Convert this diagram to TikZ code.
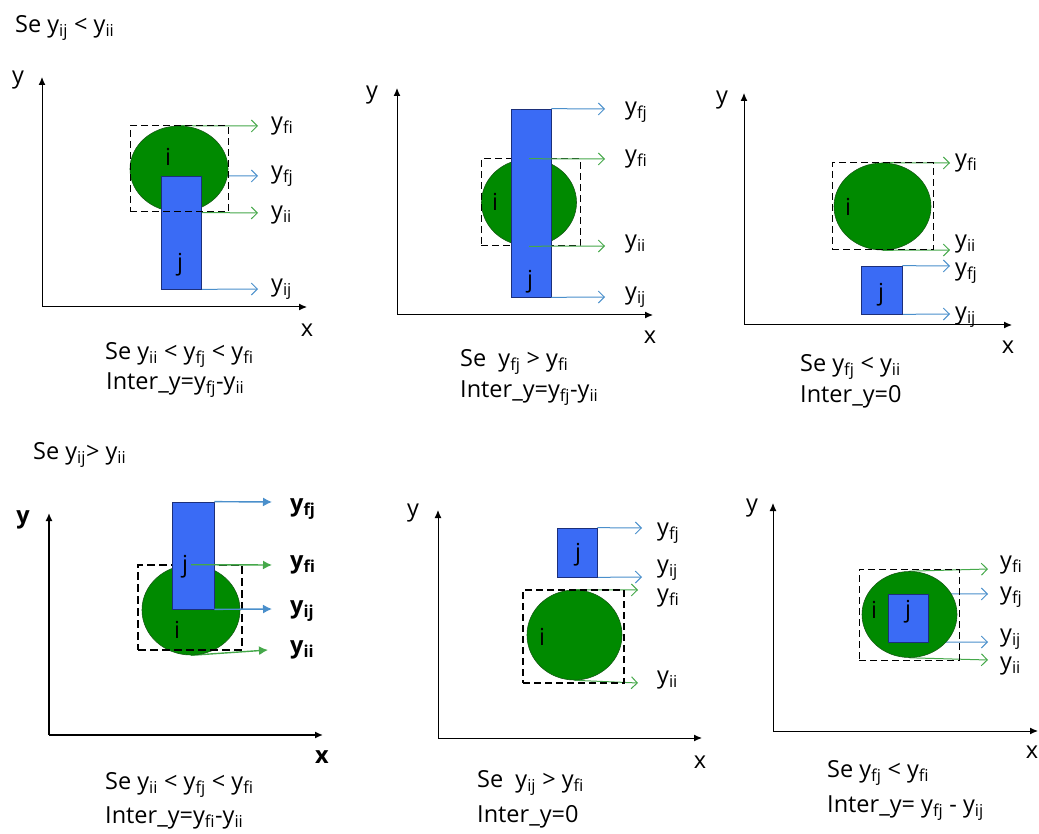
\documentclass[tikz,border=0pt]{standalone}
\usepackage{fontspec}
\setmainfont{Open Sans}
\usetikzlibrary{arrows.meta,positioning,shapes.geometric,backgrounds}
\definecolor{igreen}{HTML}{008A00}
\definecolor{iedge}{HTML}{145A14}
\definecolor{jblue}{HTML}{3A6BF5}
\definecolor{jedge}{HTML}{1C2F7A}
\definecolor{agreen}{HTML}{45A84A}
\definecolor{ablue}{HTML}{4A8FCB}
\newcommand{\ysub}[1]{y\textsubscript{#1}}
\tikzset{
  txt/.style={font=\fontsize{23.5}{26}\selectfont,inner sep=0pt},
  txtb/.style={font=\fontsize{23.5}{26}\selectfont\bfseries,inner sep=0pt},
  captxt/.style={txt,anchor=west},
  lab/.style={txt,anchor=west},
  labb/.style={txtb,anchor=west},
  axis/.style={-{Latex[length=8pt,width=7pt]},line width=1pt},
  axisb/.style={axis,line width=1.5pt},
  circ/.style={ellipse,fill=igreen,draw=iedge,line width=0.6pt,inner sep=0pt},
  frame/.style={rectangle,draw,line width=1pt,dash pattern=on 7pt off 4pt,inner sep=0pt},
  frameb/.style={frame,line width=1.8pt,dash pattern=on 8pt off 4pt},
  bar/.style={rectangle,fill=jblue,draw=jedge,line width=0.7pt,inner sep=0pt},
  ga/.style={-{Straight Barb[length=6pt,width=12pt]},draw=agreen,line width=1pt},
  ba/.style={-{Straight Barb[length=6pt,width=12pt]},draw=ablue,line width=1pt},
  gab/.style={-{Latex[length=9pt,width=9pt]},draw=agreen,line width=1.4pt},
  bab/.style={-{Latex[length=9pt,width=9pt]},draw=ablue,line width=1.4pt},
}
\begin{document}
\begin{tikzpicture}[x=1pt,y=-1pt]
\useasboundingbox (0,0) rectangle (1039,834);

% caso y_ij < y_ii
\node[captxt] (t1) at (15,28) {Se \ysub{ij} < \ysub{ii}};

% painel 1
\coordinate (o1) at (42,307);
\draw[axis] (o1) -- (42,77);
\draw[axis] (o1) -- (307,307);
\node[txt] (y1) at (18,80) {y};
\node[txt] (x1) at (307,330) {x};
\node[circ,minimum width=98pt,minimum height=86pt] (i1) at (179,169) {};
\node[bar,minimum width=40pt,minimum height=113pt] (j1) at (181,232.5) {};
\node[frame,minimum width=98pt,minimum height=86pt] (b1) at (179,169) {};
\node[txt] (ti1) at (168,157) {i};
\node[txt] (tj1) at (180,265) {j};
\coordinate (e11) at (258,126);
\coordinate (e12) at (258,176);
\coordinate (e13) at (258,213);
\coordinate (e14) at (258,289);
\begin{scope}[on background layer]
  \draw[ga] (i1.north) -- (e11);
  \draw[ba] (j1.north east) -- (e12);
  \draw[ga] (i1.south) -- (e13);
  \draw[ba] (j1.south east) -- (e14);
\end{scope}
\node[lab,right=13pt of e11] (l11) {\ysub{fi}};
\node[lab,right=13pt of e12] (l12) {\ysub{fj}};
\node[lab,right=13pt of e13,yshift=-2pt] (l13) {\ysub{ii}};
\node[lab,right=13pt of e14] (l14) {\ysub{ij}};
\node[captxt] (c11) at (105,355) {Se \ysub{ii} < \ysub{fj} < \ysub{fi}};
\node[captxt] (c12) at (106,385) {Inter\_y=\ysub{fj}-\ysub{ii}};

% painel 2
\coordinate (o2) at (397,315);
\draw[axis] (o2) -- (397,88);
\draw[axis] (o2) -- (653,315);
\node[txt] (y2) at (372,95) {y};
\node[txt] (x2) at (650,337) {x};
\node[circ,minimum width=95pt,minimum height=87pt] (i2) at (529,202.5) {};
\node[frame,minimum width=99pt,minimum height=87pt] (b2) at (530.5,202.5) {};
\node[bar,minimum width=40pt,minimum height=188pt] (j2) at (531,203) {};
\node[txt] (ti2) at (495,202) {i};
\node[txt] (tj2) at (530,282) {j};
\coordinate (e21) at (605,109);
\coordinate (e22) at (605,159);
\coordinate (e23) at (605,246);
\coordinate (e24) at (605,297);
\draw[ba] (j2.north east) -- (e21);
\draw[ga] (i2.north) -- (e22);
\draw[ga] (i2.south) -- (e23);
\draw[ba] (j2.south east) -- (e24);
\node[lab,right=20pt of e21,yshift=-3pt] (l21) {\ysub{fj}};
\node[lab,right=20pt of e22] (l22) {\ysub{fi}};
\node[lab,right=20pt of e23,yshift=2pt] (l23) {\ysub{ii}};
\node[lab,right=20pt of e24] (l24) {\ysub{ij}};
\node[captxt] (c21) at (460,362) {Se\ \ \ysub{fj} > \ysub{fi}};
\node[captxt] (c22) at (460,393) {Inter\_y=\ysub{fj}-\ysub{ii}};

% painel 3
\coordinate (o3) at (744,325);
\draw[axis] (o3) -- (744,93);
\draw[axis] (o3) -- (1012,325);
\node[txt] (y3) at (722,100) {y};
\node[txt] (x3) at (1008,347) {x};
\node[circ,minimum width=97pt,minimum height=87pt] (i3) at (882.5,206.5) {};
\node[frame,minimum width=101pt,minimum height=87pt] (b3) at (882.5,206.5) {};
\node[bar,minimum width=41pt,minimum height=48pt] (j3) at (881.5,290) {};
\node[txt] (ti3) at (848,207) {i};
\node[txt] (tj3) at (881,295) {j};
\coordinate (e31) at (950,163);
\coordinate (e32) at (950,250);
\coordinate (e33) at (950,266);
\coordinate (e34) at (950,314);
\begin{scope}[on background layer]
  \draw[ga] (i3.north) -- (e31);
  \draw[ga] (i3.south) -- (e32);
  \draw[ba] (j3.north east) -- (e33);
  \draw[ba] (j3.south east) -- (e34);
\end{scope}
\node[lab,right=5pt of e31] (l31) {\ysub{fi}};
\node[lab,right=5pt of e32,yshift=6pt] (l32) {\ysub{ii}};
\node[lab,right=5pt of e33,yshift=-7pt] (l33) {\ysub{fj}};
\node[lab,right=5pt of e34,yshift=-3pt] (l34) {\ysub{ij}};
\node[captxt] (c31) at (800,367) {Se \ysub{fj} < \ysub{ii}};
\node[captxt] (c32) at (800,397) {Inter\_y=0};

% caso y_ij > y_ii
\node[captxt] (t2) at (33,455) {Se \ysub{ij}> \ysub{ii}};

% painel 4
\coordinate (o4) at (49,735);
\draw[axisb] (o4) -- (49,513);
\draw[axisb] (o4) -- (323,735);
\node[txtb] (y4) at (23,520) {y};
\node[txtb] (x4) at (322,757) {x};
\node[circ,minimum width=98pt,minimum height=90pt] (i4) at (191,610) {};
\node[frame,frameb,minimum width=104pt,minimum height=85pt] (b4) at (190,607.5) {};
\node[bar,minimum width=42pt,minimum height=107pt] (j4) at (193,555.5) {};
\node[txt] (ti4) at (177,630) {i};
\node[txt] (tj4) at (185,567) {j};
\coordinate (e41) at (272,502);
\coordinate (e42) at (272,565);
\coordinate (e43) at (272,609);
\coordinate (e44) at (268,650);
\draw[bab] (j4.north east) -- (e41);
\draw[gab] (i4.north) -- (e42);
\draw[bab] (j4.south east) -- (e43);
\begin{scope}[on background layer]
  \draw[gab] (i4.south) -- (e44);
\end{scope}
\node[labb,right=18pt of e41,yshift=-7pt] (l41) {\ysub{fj}};
\node[labb,right=18pt of e42] (l42) {\ysub{fi}};
\node[labb,right=18pt of e43,yshift=-2pt] (l43) {\ysub{ij}};
\node[labb,right=22pt of e44] (l44) {\ysub{ii}};
\node[captxt] (c41) at (105,785) {Se \ysub{ii} < \ysub{fj} < \ysub{fi}};
\node[captxt] (c42) at (105,818) {Inter\_y=\ysub{fi}-\ysub{ii}};

% painel 5
\coordinate (o5) at (438,738);
\draw[axis] (o5) -- (438,510);
\draw[axis] (o5) -- (702,738);
\node[txt] (y5) at (413,513) {y};
\node[txt] (x5) at (700,762) {x};
\node[bar,minimum width=40pt,minimum height=49pt] (j5) at (577,552.5) {};
\node[circ,minimum width=95pt,minimum height=90pt] (i5) at (574.5,635) {};
\node[frame,line width=1.4pt,minimum width=101pt,minimum height=93pt] (b5) at (573.5,636.5) {};
\node[txt] (ti5) at (542,637) {i};
\node[txt] (tj5) at (578,555) {j};
\coordinate (e51) at (642,528);
\coordinate (e52) at (642,577);
\coordinate (e53) at (638,590);
\coordinate (e54) at (638,683);
\begin{scope}[on background layer]
  \draw[ba] (j5.north east) -- (e51);
  \draw[ba] (j5.south east) -- (e52);
  \draw[ga] (i5.north) -- (e53);
  \draw[ga] (i5.south) -- (e54);
\end{scope}
\node[lab,right=15pt of e51,yshift=-5pt] (l51) {\ysub{fj}};
\node[lab,right=15pt of e52,yshift=7pt] (l52) {\ysub{ij}};
\node[lab,right=19pt of e53,yshift=-8pt] (l53) {\ysub{fi}};
\node[lab,right=19pt of e54,yshift=3pt] (l54) {\ysub{ii}};
\node[captxt] (c51) at (477,783) {Se\ \ \ysub{ij} > \ysub{fi}};
\node[captxt] (c52) at (477,817) {Inter\_y=0};

% painel 6
\coordinate (o6) at (773,731);
\draw[axis] (o6) -- (773,503);
\draw[axis] (o6) -- (1038,731);
\node[txt] (y6) at (752,508) {y};
\node[txt] (x6) at (1032,752) {x};
\node[circ,minimum width=95pt,minimum height=86pt] (i6) at (909.5,614.5) {};
\node[bar,minimum width=40pt,minimum height=48pt] (j6) at (908,618) {};
\node[frame,minimum width=100pt,minimum height=91pt] (b6) at (909,614.5) {};
\node[txt] (ti6) at (874,610) {i};
\node[txt] (tj6) at (908,612) {j};
\coordinate (e61) at (988,569);
\coordinate (e62) at (988,594);
\coordinate (e63) at (988,642);
\coordinate (e64) at (988,660);
\begin{scope}[on background layer]
  \draw[ga] (i6.north) -- (e61);
  \draw[ba] (j6.north east) -- (e62);
  \draw[ba] (j6.south east) -- (e63);
  \draw[ga] (i6.south) -- (e64);
\end{scope}
\node[lab,right=12pt of e61,yshift=4pt] (l61) {\ysub{fi}};
\node[lab,right=12pt of e62,yshift=-3pt] (l62) {\ysub{fj}};
\node[lab,right=12pt of e63,yshift=3pt] (l63) {\ysub{ij}};
\node[lab,right=12pt of e64,yshift=-6pt] (l64) {\ysub{ii}};
\node[captxt] (c61) at (827,773) {Se \ysub{fj} < \ysub{fi}};
\node[captxt] (c62) at (827,808) {Inter\_y= \ysub{fj} - \ysub{ij}};
\end{tikzpicture}
\end{document}
